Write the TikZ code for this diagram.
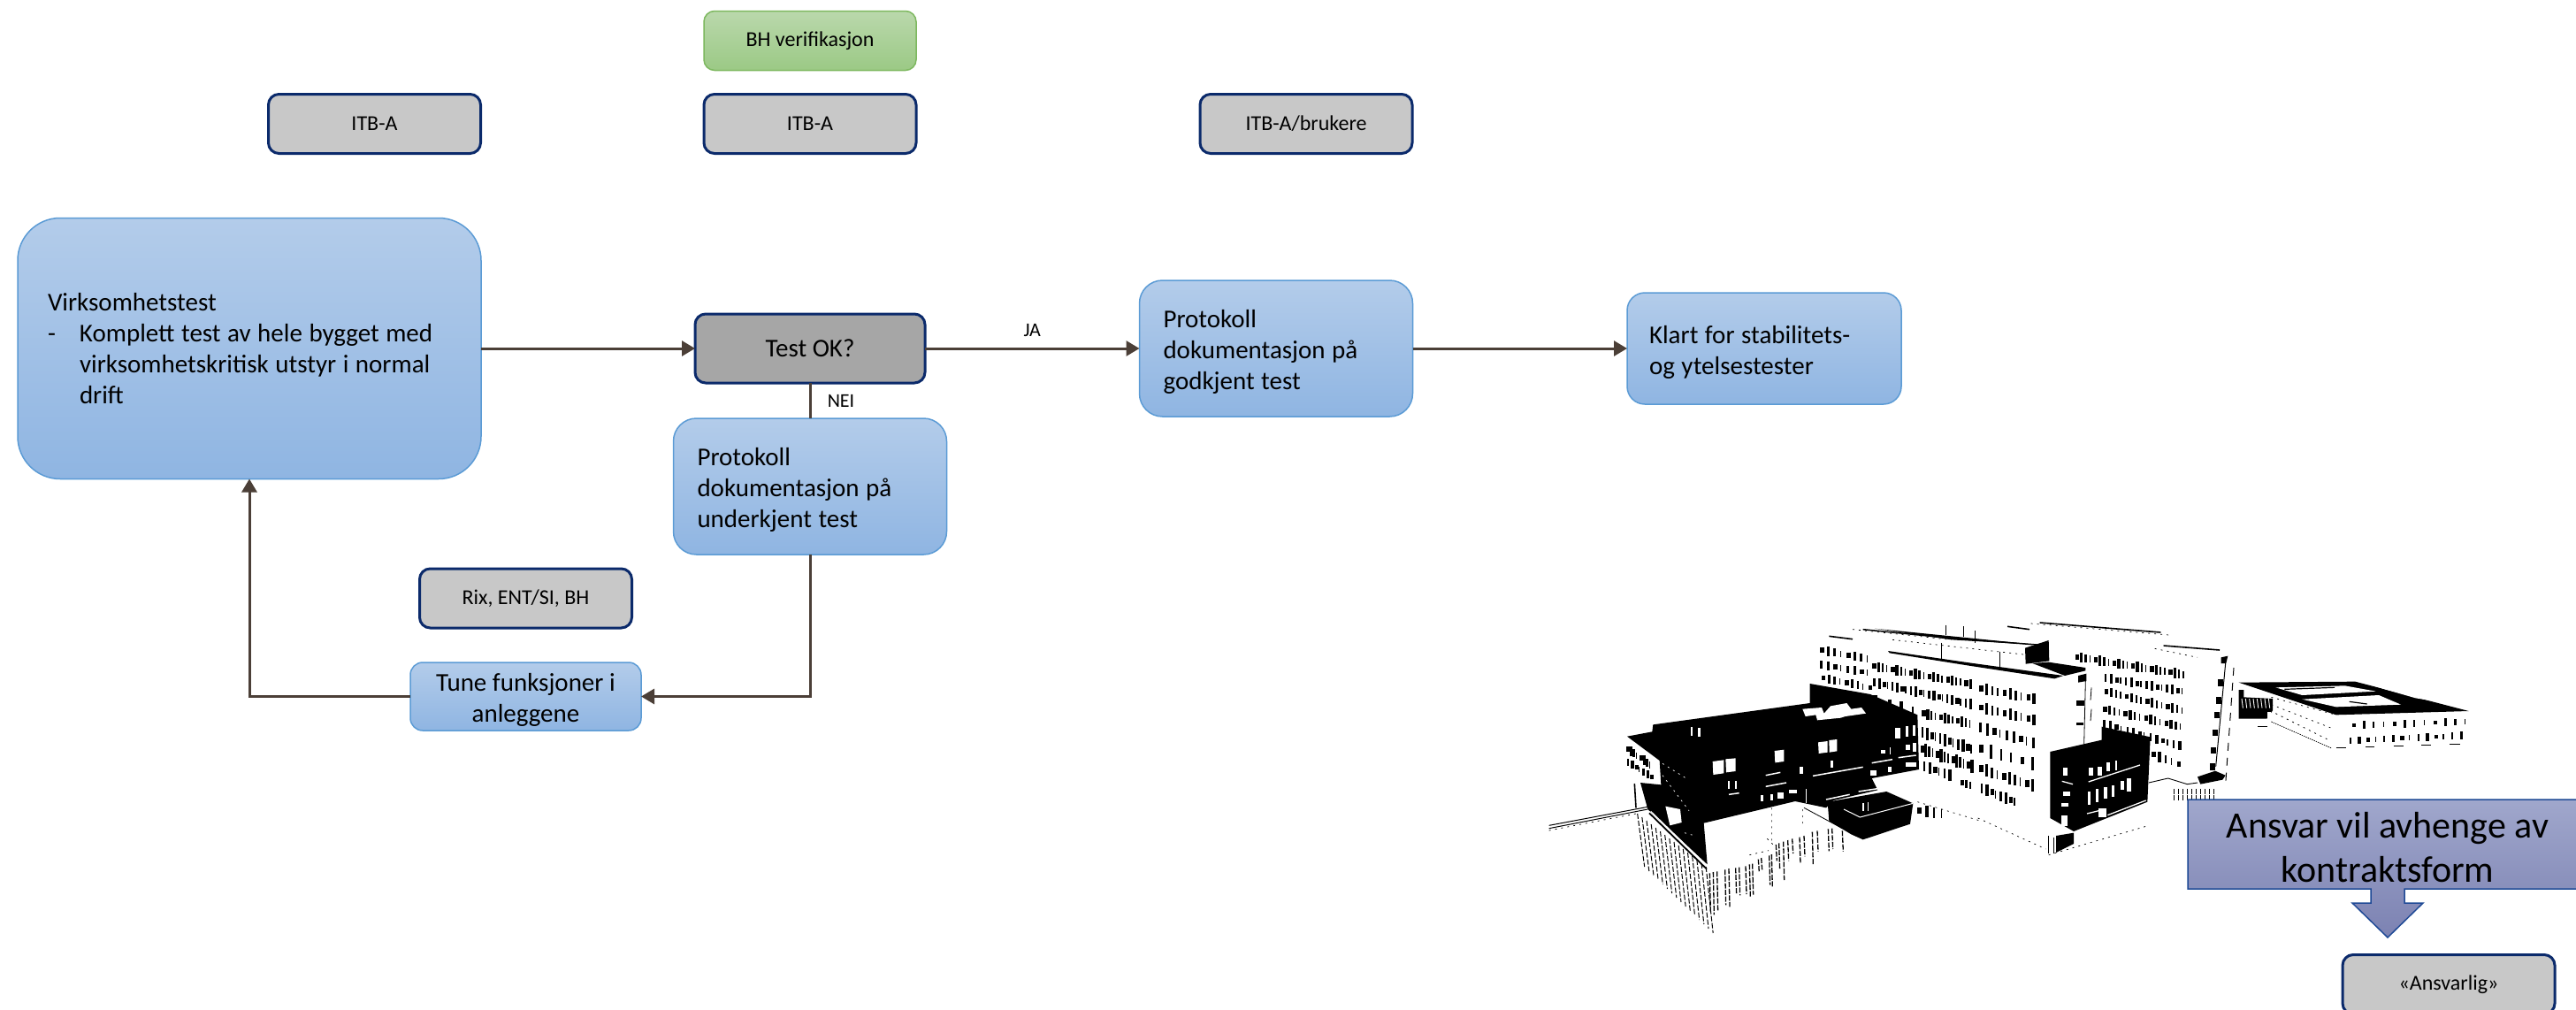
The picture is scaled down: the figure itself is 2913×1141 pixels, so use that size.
\documentclass[tikz,border=0pt]{standalone}
\usepackage{fontspec}
\setmainfont{Carlito}
\usetikzlibrary{arrows.meta,positioning}
\definecolor{linkc}{HTML}{4B3F37}
\definecolor{navy}{HTML}{0B2A6B}
\definecolor{blueT}{HTML}{B3CCEA}
\definecolor{blueB}{HTML}{8FB5E2}
\definecolor{blueE}{HTML}{5B9BD5}
\definecolor{greenT}{HTML}{BAD8AC}
\definecolor{greenB}{HTML}{9BC985}
\definecolor{greenE}{HTML}{7DB85F}
\definecolor{greyF}{HTML}{C8C8C8}
\definecolor{greyD}{HTML}{A6A6A6}
\definecolor{violT}{HTML}{A0A7CC}
\definecolor{violB}{HTML}{7C82B2}
\definecolor{violE}{HTML}{1F4A96}
\newcommand\lowr{\rule{0pt}{28pt}}
\newcommand\tsp{\spaceskip=.26em\relax}
\tikzset{
  basebox/.style={anchor=center,inner sep=0pt,outer sep=0pt},
  bluebox/.style={basebox,draw=blueE,line width=1.5pt,top color=blueT,bottom color=blueB,
     font=\fontsize{29}{35}\selectfont},
  rolebox/.style={basebox,draw=navy,line width=3pt,fill=greyF,rounded corners=12pt,
     minimum width=240pt,minimum height=67pt,font=\fontsize{24}{29}\selectfont},
  greenbox/.style={basebox,draw=greenE,line width=1.5pt,top color=greenT,bottom color=greenB,rounded corners=12pt,
     minimum width=240pt,minimum height=67pt,font=\fontsize{24}{29}\selectfont},
  link/.style={draw=linkc,line width=3pt},
  linkarrow/.style={link,-{Triangle[length=15pt,width=17pt]}},
  edgelabel/.style={inner sep=0pt,font=\fontsize{22}{26}\selectfont},
  zfour/.style={shift={(1740,780)},scale=0.33333},
  zfive/.style={shift={(2040,690)},scale=0.33333},
  zsix/.style={shift={(2460,740)},scale=0.33333},
  dots/.style={line width=0.7pt,dash pattern=on 2pt off 5pt},
  hatch/.style={line width=1.3pt,dash pattern=on 6pt off 1.6pt}
}
\newcommand\winrow[7]{%
  \foreach \wi in {1,...,#5}{%
    \pgfmathsetmacro\wt{(\wi-1)/(#5-1)}%
    \pgfmathsetmacro\wx{#1+\wt*(#3-#1)}%
    \pgfmathsetmacro\wy{#2+\wt*(#4-#2)}%
    \pgfmathsetmacro\ww{4+3*mod(\wi*#7,4)}%
    \pgfmathsetmacro\wh{#6*(0.55+0.15*mod(\wi*#7+1,4))}%
    \fill[black] (\wx,\wy-\wh/2) rectangle ++(\ww,\wh);%
  }}
\begin{document}
\begin{tikzpicture}[x=1pt,y=-1pt]
\useasboundingbox (0,0) rectangle (2913,1141);
\clip (0,0) rectangle (2913,1141);
\fill[white] (0,0) rectangle (2913,1141);

%% ---------- building, left block
\begin{scope}[zfour]
  \fill[black] (300,158)--(385,142)--(388,118)--(920,45)--(920,-21)--(1125,15)--(1285,85)--(1290,270)
     --(1130,300)--(1150,340)--(1000,375)--(975,400)--(870,378)--(560,452)--(572,592)--(370,405)--(345,315)--(415,322)--(410,240)--cycle;
  \fill[black] (980,380)--(1180,345)--(1270,385)--(1260,455)--(1100,508)--(1060,490)--(985,445)--cycle;
  % white openings
  \fill[white] (895,65)--(960,60)--(968,80)--(990,55)--(1045,45)--(1060,65)--(1095,60)--(1110,80)--(1040,90)--(1025,95)--(945,103)--(940,85)--(905,90)--cycle;
  \fill[white] (590,243)--(628,238)--(628,283)--(592,288)--cycle;
  \fill[white] (634,235)--(668,232)--(668,276)--(636,280)--cycle;
  \fill[white] (800,207)--(832,203)--(832,243)--(802,247)--cycle;
  \fill[white] (948,178)--(980,174)--(980,212)--(950,216)--cycle;
  \fill[white] (985,171)--(1012,168)--(1012,208)--(986,212)--cycle;
  \fill[white] (430,395)--(480,405)--(485,450)--(445,460)--cycle;
  \fill[white] (641,310) rectangle (648,335);
  \fill[white] (665,310) rectangle (672,335);
  \fill[white] (515,125) rectangle (522,155);
  \fill[white] (540,128) rectangle (548,160);
  \fill[white] (1210,130) rectangle (1228,165);
  \fill[white] (1245,122) rectangle (1255,160);
  \fill[white] (1268,120) rectangle (1278,155);
  \draw[white,line width=1.5pt] (770,328)--(840,315) (645,355)--(680,350) (770,290)--(820,280)
     (930,292)--(1100,262) (1130,248)--(1200,236) (1220,230)--(1280,222) (975,372)--(1055,355) (1085,345)--(1150,335);
  \fill[white] (752,358) rectangle (762,378);\fill[white] (785,355) rectangle (795,375);\fill[white] (810,348) rectangle (830,368);
  \fill[white] (850,338) rectangle (875,352);\fill[white] (885,262) rectangle (897,285);\fill[white] (990,240) rectangle (1000,265);
  \fill[white] (1125,272) rectangle (1145,290);\fill[white] (1185,262) rectangle (1197,280);\fill[white] (1245,245) rectangle (1280,262);
  \fill[white] (1160,205) rectangle (1175,215);\fill[white] (1245,185) rectangle (1260,205);\fill[white] (1270,180) rectangle (1280,210);
  \fill[white] (1190,195) rectangle (1195,220);
  \draw[white,line width=1pt] (1035,405)--(1090,432)--(1270,385);
  \draw[black,line width=.7pt] (1037,412)--(1037,475);
  \fill[white] (1098,385) rectangle (1103,412);\fill[white] (1115,382) rectangle (1120,410);
  \fill[white] (905,335) rectangle (909,385);
  % dark facade detail
  \draw[white,line width=.7pt,dots] (420,250)--(500,300) (420,290)--(510,410) (495,485)--(530,495);
  % left white facade marks
  \winrow{297}{200}{375}{255}{8}{32}{3}
  \winrow{300}{245}{378}{295}{7}{28}{5}
  % pipe
  \draw[black,line width=1pt] (35,460)--(370,397) (35,470)--(370,405);
  \draw[black,dots] (35,477)--(330,420);
  \draw[black,line width=1.6pt] (325,318)--(330,400);
  \draw[black,line width=1.8pt] (375,418)--(570,608);
  \draw[white,line width=1.2pt] (380,412)--(570,596);
  % lower hatching, left face
  \foreach \cc in {0,...,15}{
    \pgfmathsetmacro\hx{335+\cc*15.5}
    \pgfmathsetmacro\hy{420+\cc*12}
    \pgfmathsetmacro\hn{180+\cc*3}
    \draw[black,line width=1pt,dash pattern=on 6pt off 2pt] (\hx,\hy)--(\hx+24,\hy+\hn);
  }
  % lower hatching, front face
  \foreach \px/\py/\pl in {580/622/130,592/618/145,605/616/135,632/610/120,645/606/130,668/604/90,680/602/95,702/598/95,715/592/110,725/590/105,745/575/45,755/570/40,782/562/100,790/558/110,805/525/55,815/520/90,830/515/130,845/510/70,860/505/50,885/500/90,900/495/70,928/482/110,945/478/70,982/472/75,995/470/70,1030/478/70}{
    \draw[black,hatch] (\px,\py)--(\px+3,\py+\pl);
  }
  \draw[black,line width=.8pt] (900,400)--(1030,470);
  \draw[black,dots] (790,400)--(790,520) (895,405)--(895,460) (775,505)--(800,530) (715,560)--(780,545);
\end{scope}

%% ---------- building, main wings
\begin{scope}[zfive]
  \winrow{55}{135}{212}{165}{8}{32}{3}
  \winrow{55}{185}{212}{212}{8}{30}{5}
  \winrow{60}{230}{218}{262}{9}{30}{7}
  \winrow{232}{190}{560}{250}{22}{34}{3}
  \winrow{235}{245}{560}{318}{22}{34}{5}
  \winrow{235}{295}{240}{297}{2}{20}{1}
  \winrow{285}{310}{365}{340}{3}{30}{3}
  \winrow{400}{350}{560}{385}{12}{36}{7}
  \winrow{398}{415}{565}{470}{12}{42}{5}
  \winrow{395}{470}{565}{530}{14}{44}{3}
  \winrow{405}{530}{490}{560}{6}{40}{5}
  \winrow{530}{585}{560}{595}{3}{28}{3}
  \winrow{595}{265}{775}{300}{10}{38}{3}
  \winrow{595}{330}{775}{372}{10}{38}{7}
  \winrow{595}{398}{775}{450}{9}{40}{5}
  \winrow{595}{470}{770}{520}{6}{46}{3}
  \winrow{595}{538}{770}{595}{10}{42}{7}
  \winrow{600}{605}{712}{650}{8}{38}{5}
  \winrow{920}{158}{1285}{218}{24}{34}{3}
  \winrow{1020}{230}{1280}{275}{16}{32}{5}
  \winrow{1020}{275}{1280}{340}{16}{32}{7}
  \winrow{1015}{335}{1275}{395}{16}{32}{3}
  \winrow{1015}{385}{1270}{460}{14}{30}{5}
  \winrow{1180}{490}{1265}{522}{5}{34}{7}
  % roof lines
  \draw[black,line width=1.5pt] (200,65)--(500,95)--(830,120);
  \fill[black] (240,62)--(500,88)--(800,118)--(500,100)--cycle;
  \fill[black] (285,138)--(560,178)--(880,222)--(850,232)--(560,188)--(290,145)--cycle;
  \fill[black] (750,128)--(830,102)--(832,172)--(752,182)--cycle;
  \fill[black] (775,180)--(830,176)--(955,195)--(955,205)--(885,222)--cycle;
  \draw[black,line width=1.6pt] (85,88)--(165,98) (800,42)--(1210,75) (1220,120)--(1410,135) (690,55)--(765,65);
  \draw[black,line width=.7pt] (465,110)--(465,170) (665,140)--(665,197) (480,50)--(480,85) (540,55)--(540,90) (580,70)--(580,110);
  \draw[black,dots] (165,65)--(500,100) (300,100)--(745,150) (770,45)--(1250,85) (1190,130)--(1335,160);
  % wing ends
  \fill[black] (930,222)--(958,215)--(958,240)--(930,245)--cycle;
  \draw[black,line width=.8pt] (955,240)--(950,455) (975,262)--(972,305) (975,335)--(972,375);
  \fill[black] (925,305) rectangle (950,325);
  \fill[black] (925,380) rectangle (948,390);
  \fill[black] (1415,160)--(1438,155)--(1432,180)--(1415,180)--cycle;
  \draw[black,line width=1pt] (1430,180)--(1397,530);
  \foreach \ey in {235,295,345,405,465,520}{
    \pgfmathsetmacro\ex{1430-(\ey-180)*0.094}
    \fill[black] (\ex-22,\ey) rectangle ++(18,22);
  }
  \draw[black,line width=1pt,dash pattern=on 9pt off 8pt] (1458,195)--(1430,590);
  \fill[black] (1335,565)--(1395,545)--(1430,560)--(1420,575)--(1345,590)--cycle;
  \draw[black,line width=.9pt] (1170,585)--(1235,570)--(1300,590)--(1335,585);
  \foreach \hxx in {1255,1270,1285,1300,1315,1330,1345,1360,1375,1390}{\draw[black,hatch] (\hxx,605)--(\hxx,650);}
  % front block
  \fill[black] (835,480)--(1010,440)--(1010,395)--(1175,430)--(1165,650)--(915,750)--(835,705)--cycle;
  \foreach \qx/\qy/\qw/\qh in {965/535/16/25,997/532/14/28,1025/515/14/30,1055/510/8/32,
      962/615/10/45,990/605/10/45,1018/600/10/40,1045/595/8/38,1075/580/10/30,1095/570/16/45,
      1000/672/26/30,880/535/14/25,880/615/22/15,873/655/24/12,872/695/22/38}{
    \fill[white] (\qx,\qy) rectangle ++(\qw,\qh);
  }
  \draw[white,line width=1.3pt] (965,582)--(1140,525) (875,580)--(912,590) (960,690)--(1000,680) (1030,695)--(1160,645);
  \draw[black,line width=1pt] (830,765)--(830,825) (848,770)--(848,825);
  \fill[black] (855,765)--(915,755)--(915,792)--(855,822)--cycle;
  \draw[black,dots] (830,830)--(1170,730) (590,705)--(820,810) (385,650)--(600,715);
  \winrow{385}{680}{465}{690}{4}{40}{3}
\end{scope}

%% ---------- far building
\begin{scope}[zsix]
  \fill[black] (215,95)--(610,92)--(995,192)--(545,205)--cycle;
  \fill[white] (340,112)--(575,106)--(680,125)--(430,138)--cycle;
  \fill[white] (430,152)--(690,138)--(765,170)--(545,178)--cycle;
  \fill[white] (640,95)--(965,172)--(815,148)--(710,118)--cycle;
  \draw[black,line width=1.2pt] (370,118)--(540,112) (590,160)--(650,168);
  \fill[black] (215,120)--(232,120)--(232,145)--(330,150)--(330,190)--(310,218)--(215,218)--cycle;
  \foreach \sx in {225,238,251,264,277,290,303,316}{\draw[white,line width=.9pt] (\sx,150)--(\sx+4,182);}
  \fill[white] (312,195) rectangle (325,215);
  \draw[black,dots] (325,145)--(545,205) (325,170)--(530,250) (340,200)--(520,290);
  \draw[black,line width=.7pt,dash pattern=on 1.5pt off 1pt] (325,228)--(530,318);
  \winrow{600}{240}{980}{228}{12}{26}{3}
  \winrow{590}{292}{965}{275}{14}{26}{5}
  \draw[black,line width=1pt] (280,245)--(312,245) (545,315)--(580,315) (645,312)--(675,312) (740,310)--(775,310) (835,308)--(868,308) (930,305)--(965,305);
\end{scope}

%% ---------- flow nodes
\node[greenbox] (bh) at (916,46) {BH verifikasjon};
\node[rolebox] (itb1) at (423.5,140) {ITB-A};
\node[rolebox] (itb2) at (916,140) {ITB-A};
\node[rolebox] (itb3) at (1477,140) {ITB-A/brukere};
\node[bluebox,rounded corners=48pt,minimum height=295pt,text width=456pt,inner xsep=34pt,align=left] (virk) at (282,394)
  {\tsp Virksomhetstest\\\makebox[36pt][l]{-}Komplett test av hele bygget med\\\hspace*{36pt}virksomhetskritisk utstyr i normal\\\hspace*{36pt}drift};
\node[basebox,draw=navy,line width=3pt,fill=greyD,rounded corners=12pt,minimum width=260pt,minimum height=78pt,font=\fontsize{29}{35}\selectfont] (test) at (916,394) {Test OK?};
\node[bluebox,rounded corners=26pt,minimum height=154pt,text width=255pt,inner xsep=27pt,align=left] (ppos) at (1443,394)
  {\tsp\lowr Protokoll\\dokumentasjon på\\godkjent test};
\node[bluebox,rounded corners=20pt,minimum height=126pt,text width=260pt,inner xsep=25pt,align=left] (klart) at (1995,394)
  {\tsp\lowr Klart for stabilitets-\\og ytelsestester};
\node[bluebox,rounded corners=26pt,minimum height=154pt,text width=255pt,inner xsep=27pt,align=left] (pneg) at (916,550)
  {\tsp\lowr Protokoll\\dokumentasjon på\\underkjent test};
\node[rolebox] (rix) at (594.5,676.5) {Rix, ENT/SI, BH};
\node[bluebox,rounded corners=14pt,minimum width=261pt,minimum height=77pt,align=center] (tune) at (594.5,787.5)
  {\lowr Tune funksjoner i\\anleggene};

%% ---------- connectors
\draw[linkarrow] (virk.east) -- (test.west);
\draw[linkarrow] (test.east) -- node[edgelabel,pos=0.5,above=12pt] (ja) {JA} (ppos.west);
\draw[linkarrow] (ppos.east) -- (klart.west);
\draw[link] (test.south) -- (pneg.north);
\node[edgelabel] (nei) at (951,453) {NEI};
\draw[linkarrow] (pneg.south) |- (tune.east);
\draw[linkarrow] (tune.west) -| (virk.south);

%% ---------- callout
\path[draw=violE,line width=1.5pt,top color=violT,bottom color=violB]
  (2474,904)--(2926,904)--(2926,1005)--(2719,1005)--(2719,1021)--(2740,1021)--(2700,1060)--(2660,1021)--(2681,1021)--(2681,1005)--(2474,1005)--cycle;
\node[basebox,align=center,font=\fontsize{42}{50}\selectfont] (ansvar) at (2700,958) {Ansvar vil avhenge av\\kontraktsform};
\node[rolebox,minimum width=240pt] (ansvarlig) at (2769,1113) {«Ansvarlig»};
\end{tikzpicture}
\end{document}
